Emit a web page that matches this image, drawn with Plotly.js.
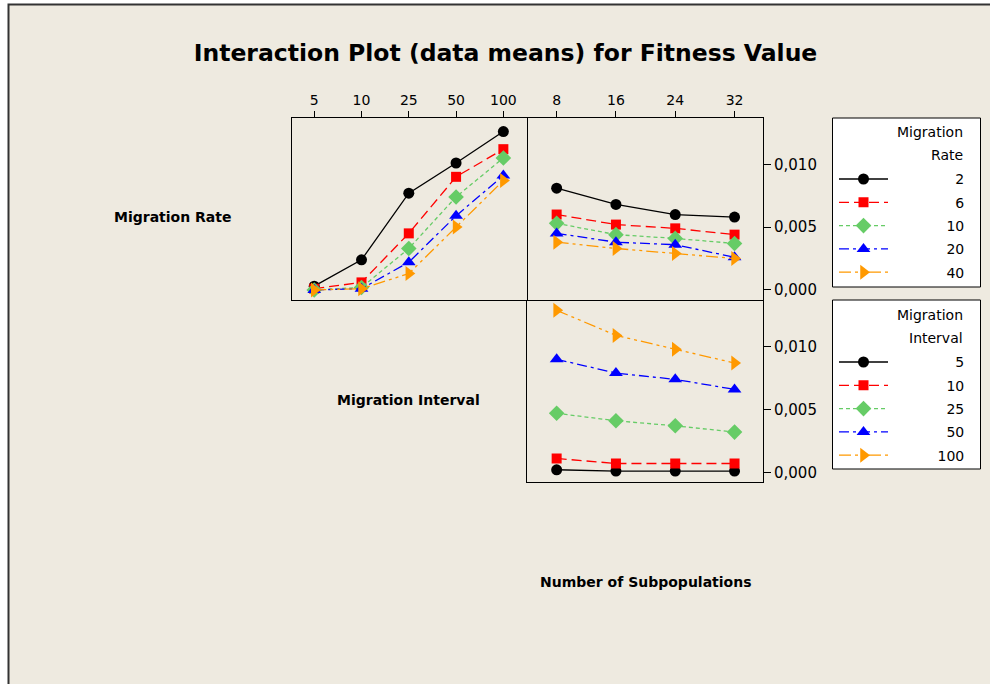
<!DOCTYPE html>
<html>
<head>
<meta charset="utf-8">
<script src="https://cdn.plot.ly/plotly-3.0.1.min.js"></script>
<style>html,body{margin:0;padding:0;background:#fff;}#chart{width:990px;height:684px;}</style>
</head>
<body>
<div id="chart"></div>
<script>
// Categories
const migrationInterval = ['5', '10', '25', '50', '100'];
const migrationRate = ['2', '6', '10', '20', '40'];
const subpopulations = ['8', '16', '24', '32'];

// Top-left panel: mean fitness vs Migration Interval, one series per Migration Rate
const rate2ByInterval  = [0.0003, 0.0024, 0.0077, 0.0101, 0.0126];
const rate6ByInterval  = [0.0001, 0.0006, 0.0045, 0.0090, 0.0112];
const rate10ByInterval = [0.0000, 0.0002, 0.0033, 0.0074, 0.0105];
const rate20ByInterval = [0.0000, 0.0001, 0.0022, 0.0059, 0.0091];
const rate40ByInterval = [0.0000, 0.0001, 0.0013, 0.0050, 0.0087];

// Top-right panel: mean fitness vs Number of Subpopulations, one series per Migration Rate
const rate2BySubpop  = [0.0081, 0.0068, 0.0060, 0.0058];
const rate6BySubpop  = [0.0060, 0.0052, 0.0049, 0.0044];
const rate10BySubpop = [0.0053, 0.0044, 0.0041, 0.0037];
const rate20BySubpop = [0.0045, 0.0038, 0.0036, 0.0026];
const rate40BySubpop = [0.0038, 0.0033, 0.0029, 0.0025];

// Bottom-right panel: mean fitness vs Number of Subpopulations, one series per Migration Interval
const interval5BySubpop   = [0.0002, 0.0001, 0.0001, 0.0001];
const interval10BySubpop  = [0.0011, 0.0007, 0.0007, 0.0007];
const interval25BySubpop  = [0.0047, 0.0041, 0.0037, 0.0032];
const interval50BySubpop  = [0.0090, 0.0079, 0.0074, 0.0066];
const interval100BySubpop = [0.0129, 0.0109, 0.0098, 0.0087];

const yTicks = [0, 0.005, 0.010];

// Styles per level (index order)
const colors  = ['#000000', '#FF0000', '#66CC66', '#0000FF', '#FF9900'];
const symbols = ['circle', 'square', 'diamond', 'triangle-up', 'triangle-right'];
const sizes   = [11, 10, 12, 12, 13];
const dashes  = ['solid', '10px,5px', '4px,3px', '10px,4px,3px,4px', '12px,4px,3px,4px,3px,4px'];

const W = 990, H = 684;
const px = v => v / W;
const py = v => 1 - v / H;

// right-align legend labels with figure spaces (digit width)
function pad(label) {
  let s = label;
  while (s.length < 8) s = '\u2007' + s;
  return s;
}

const byIntervalSeries = [rate2ByInterval, rate6ByInterval, rate10ByInterval, rate20ByInterval, rate40ByInterval];
const rateSubSeries = [rate2BySubpop, rate6BySubpop, rate10BySubpop, rate20BySubpop, rate40BySubpop];
const intervalSubSeries = [interval5BySubpop, interval10BySubpop, interval25BySubpop, interval50BySubpop, interval100BySubpop];

const traces = [];
byIntervalSeries.forEach((ys, i) => {
  traces.push({
    type: 'scatter', mode: 'lines+markers', x: migrationInterval, y: ys,
    xaxis: 'x', yaxis: 'y', showlegend: false,
    line: {color: colors[i], width: 1.3, dash: dashes[i]},
    marker: {color: colors[i], symbol: symbols[i], size: sizes[i]}
  });
});
rateSubSeries.forEach((ys, i) => {
  traces.push({
    type: 'scatter', mode: 'lines+markers', x: subpopulations, y: ys,
    xaxis: 'x2', yaxis: 'y2', name: pad(migrationRate[i]), legend: 'legend',
    legendgroup: 'r' + i,
    line: {color: colors[i], width: 1.3, dash: dashes[i]},
    marker: {color: colors[i], symbol: symbols[i], size: sizes[i]}
  });
});
intervalSubSeries.forEach((ys, i) => {
  traces.push({
    type: 'scatter', mode: 'lines+markers', x: subpopulations, y: ys,
    xaxis: 'x3', yaxis: 'y3', name: pad(migrationInterval[i]), legend: 'legend2',
    legendgroup: 'i' + i,
    line: {color: colors[i], width: 1.3, dash: dashes[i]},
    marker: {color: colors[i], symbol: symbols[i], size: sizes[i]}
  });
});

const FONT = 'DejaVu Sans, Verdana, sans-serif';
const tickFont = {family: FONT, size: 14, color: '#000'};

const xL = [px(292), px(527)];
const xR = [px(527), px(763)];
const yTop = [py(300), py(118)];
const yBot = [py(481.7), py(300)];

const baseAxis = {showline: true, linecolor: '#000', linewidth: 1, mirror: true, showgrid: false, zeroline: false, fixedrange: true};

const legendBase = {xanchor: 'left', yanchor: 'top', bgcolor: 'rgba(0,0,0,0)', borderwidth: 0,
  font: {family: FONT, size: 14, color: '#000'}, itemwidth: 49, tracegroupgap: 2.1, traceorder: 'grouped'};

const layout = {
  width: W, height: H,
  margin: {l: 0, r: 0, t: 0, b: 0},
  paper_bgcolor: '#ffffff',
  plot_bgcolor: '#ffffff',
  separators: ',.',
  font: {family: FONT, color: '#000'},
  title: {text: 'Interaction Plot (data means) for Fitness Value', x: px(505.5), y: py(53), xanchor: 'center', yanchor: 'middle', xref: 'paper', yref: 'paper',
          font: {family: FONT, size: 23.5, weight: 'bold', color: '#000'}},
  xaxis: Object.assign({}, baseAxis, {domain: xL, anchor: 'y', type: 'category', side: 'top', range: [-0.47, 4.5], ticks: 'outside', ticklen: 6, tickcolor: '#000', tickfont: tickFont}),
  yaxis: Object.assign({}, baseAxis, {domain: yTop, anchor: 'x', range: [-0.0008, 0.01368], showticklabels: false, ticks: ''}),
  xaxis2: Object.assign({}, baseAxis, {domain: xR, anchor: 'y2', type: 'category', side: 'top', range: [-0.5, 3.48], ticks: 'outside', ticklen: 6, tickcolor: '#000', tickfont: tickFont}),
  yaxis2: Object.assign({}, baseAxis, {domain: yTop, anchor: 'x2', side: 'right', mirror: false, range: [-0.0008, 0.01368], tickvals: yTicks, tickformat: '.3f', ticks: 'outside', ticklen: 7, tickcolor: '#000', tickfont: {family: FONT, size: 15, color: '#000'}}),
  xaxis3: Object.assign({}, baseAxis, {domain: xR, anchor: 'y3', type: 'category', mirror: false, range: [-0.5, 3.48], showticklabels: false, ticks: ''}),
  yaxis3: Object.assign({}, baseAxis, {domain: yBot, anchor: 'x3', side: 'right', range: [-0.00075, 0.01372], tickvals: yTicks, tickformat: '.3f', ticks: 'outside', ticklen: 7, tickcolor: '#000', tickfont: {family: FONT, size: 15, color: '#000'}}),
  legend: Object.assign({}, legendBase, {x: px(834), y: py(163.4)}),
  legend2: Object.assign({}, legendBase, {x: px(834), y: py(346.4)}),
  shapes: [
    {type: 'rect', xref: 'paper', yref: 'paper', x0: px(8.5), x1: 1.05, y0: -0.05, y1: py(4.5), fillcolor: '#EEEAE0', line: {color: '#333333', width: 2}, layer: 'below'},
    {type: 'rect', xref: 'paper', yref: 'paper', x0: px(832.5), x1: px(980.5), y0: py(287), y1: py(118), fillcolor: '#ffffff', line: {color: '#000', width: 1}, layer: 'below'},
    {type: 'rect', xref: 'paper', yref: 'paper', x0: px(832.5), x1: px(980.5), y0: py(469), y1: py(300), fillcolor: '#ffffff', line: {color: '#000', width: 1}, layer: 'below'}
  ],
  annotations: [
    {text: 'Migration Rate', x: px(172.5), y: py(217), xref: 'paper', yref: 'paper', showarrow: false, xanchor: 'center', yanchor: 'middle', font: {family: FONT, size: 14, weight: 'bold', color: '#000'}},
    {text: 'Migration Interval', x: px(408.5), y: py(400), xref: 'paper', yref: 'paper', showarrow: false, xanchor: 'center', yanchor: 'middle', font: {family: FONT, size: 14, weight: 'bold', color: '#000'}},
    {text: 'Number of Subpopulations', x: px(645.5), y: py(582), xref: 'paper', yref: 'paper', showarrow: false, xanchor: 'center', yanchor: 'middle', font: {family: FONT, size: 14, weight: 'bold', color: '#000'}},
    {text: 'Migration', x: px(965), y: py(132), xref: 'paper', yref: 'paper', showarrow: false, xanchor: 'right', yanchor: 'middle', font: {family: FONT, size: 14, color: '#000'}},
    {text: 'Rate', x: px(965), y: py(155), xref: 'paper', yref: 'paper', showarrow: false, xanchor: 'right', yanchor: 'middle', font: {family: FONT, size: 14, color: '#000'}},
    {text: 'Migration', x: px(965), y: py(314.5), xref: 'paper', yref: 'paper', showarrow: false, xanchor: 'right', yanchor: 'middle', font: {family: FONT, size: 14, color: '#000'}},
    {text: 'Interval', x: px(965), y: py(338), xref: 'paper', yref: 'paper', showarrow: false, xanchor: 'right', yanchor: 'middle', font: {family: FONT, size: 14, color: '#000'}}
  ]
};

Plotly.newPlot('chart', traces, layout, {displayModeBar: false, staticPlot: true});
</script>
</body>
</html>
